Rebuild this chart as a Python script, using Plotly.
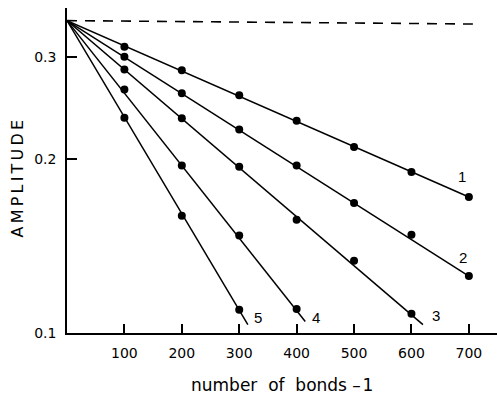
import math
import plotly.graph_objects as go

# Amplitude decay versus number of bonds for five series (semi-log)
bonds = [100, 200, 300, 400, 500, 600, 700]
amp_1 = [0.313, 0.285, 0.258, 0.233, 0.210, 0.190, 0.172]
amp_2 = [0.301, 0.260, 0.225, 0.195, 0.168, 0.148, 0.1255]
amp_3 = [0.286, 0.2355, 0.194, 0.157, 0.1334, 0.108]
amp_4 = [0.264, 0.195, 0.1475, 0.110]
amp_5 = [0.236, 0.1596, 0.1097]
series = [amp_1, amp_2, amp_3, amp_4, amp_5]
series_names = ["1", "2", "3", "4", "5"]

# common starting amplitude at zero bonds, and end points of each fitted line
start_amp = 0.3475
fit_end_x = [700, 700, 620, 415, 315]
fit_end_y = [0.172, 0.1255, 0.1034, 0.1047, 0.1034]

# dashed reference level
ref_x = [0, 707]
ref_y = [0.3475, 0.3428]

# curve label positions
label_x = [688, 689, 642, 434, 333]
label_y = [0.1866, 0.1351, 0.1072, 0.1062, 0.1062]

x_ticks = [100, 200, 300, 400, 500, 600, 700]
y_ticks = [0.1, 0.2, 0.3]
y_tick_text = ["0.1", "0.2", "0.3"]

fig = go.Figure()

fig.add_trace(go.Scatter(
    x=ref_x, y=ref_y, mode="lines",
    line=dict(color="black", width=1.6, dash="10px,8px"),
    showlegend=False, hoverinfo="skip"))

for vals, xe, ye in zip(series, fit_end_x, fit_end_y):
    fig.add_trace(go.Scatter(
        x=[0, xe], y=[start_amp, ye], mode="lines",
        line=dict(color="black", width=1.5),
        showlegend=False, hoverinfo="skip"))
    fig.add_trace(go.Scatter(
        x=bonds[:len(vals)], y=vals, mode="markers",
        marker=dict(color="black", size=8),
        showlegend=False))

for name, lx, ly in zip(series_names, label_x, label_y):
    fig.add_annotation(x=lx, y=math.log10(ly), text=name, showarrow=False,
                       font=dict(size=15, color="black", family="Liberation Sans"))

thin = "\u2009"
fig.add_annotation(xref="paper", yref="paper", x=-0.113, y=0.477,
                   xanchor="center", yanchor="middle",
                   text=thin.join("AMPLITUDE"), textangle=-90, showarrow=False,
                   font=dict(size=16, color="black", family="DejaVu Sans"))
fig.add_annotation(xref="paper", yref="paper", x=0.5, y=-0.16,
                   xanchor="center", yanchor="middle",
                   text="number  of  bonds \u2013\u200a1", showarrow=False,
                   font=dict(size=17, color="black", family="DejaVu Sans"))

fig.update_xaxes(range=[0, 749], tickvals=x_ticks, ticks="inside", ticklen=9,
                 tickwidth=1.5, tickcolor="black", showline=True, linecolor="black",
                 linewidth=1.5, showgrid=False, zeroline=False, ticklabelstandoff=6,
                 tickfont=dict(size=14, color="black", family="DejaVu Sans"))
fig.update_yaxes(type="log", range=[-1, math.log10(0.3654)], tickvals=y_ticks,
                 ticktext=y_tick_text, ticks="inside", ticklen=10, tickwidth=1.5,
                 tickcolor="black", showline=True, linecolor="black", linewidth=1.5,
                 showgrid=False, zeroline=False, ticklabelstandoff=6,
                 tickfont=dict(size=14, color="black", family="DejaVu Sans"))

fig.update_layout(width=497, height=395, margin=dict(l=67, r=0, t=8, b=62),
                  plot_bgcolor="white", paper_bgcolor="white")

fig.write_html("out.html")
